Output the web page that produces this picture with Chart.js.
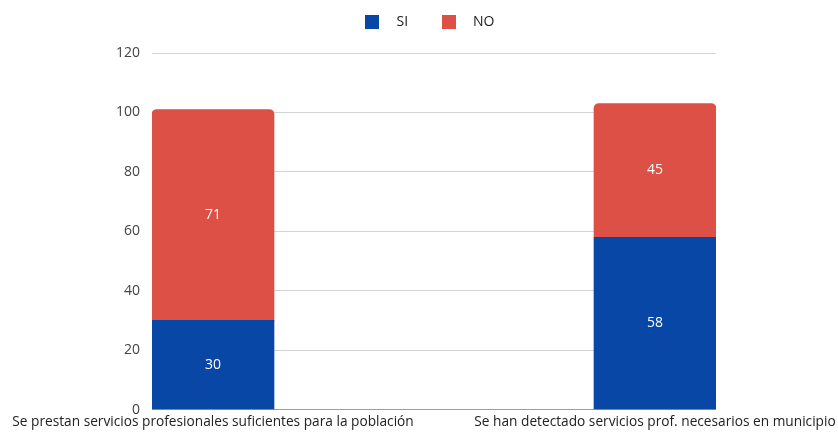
<!DOCTYPE html>
<html>
<head>
<meta charset="utf-8">
<script src="https://cdn.jsdelivr.net/npm/chart.js@4/dist/chart.umd.min.js"></script>
<style>
html,body{margin:0;padding:0;background:#fff;}
#wrap{width:838px;height:434px;position:relative;}
</style>
</head>
<body>
<div id="wrap"><canvas id="c" width="838" height="434"></canvas></div>
<script>
const categories = [
  "Se prestan servicios profesionales suficientes para la población",
  "Se han detectado servicios prof. necesarios en municipio"
];
const seriesNames = ["SI", "NO"];
const siValues = [30, 58];
const noValues = [71, 45];
const yTicks = [0, 20, 40, 60, 80, 100, 120];

const FONT = "'Open Sans', 'Noto Sans', sans-serif";
const BLUE = '#0847a6';
const RED = '#dc5045';

const valueLabels = {
  id: 'valueLabels',
  afterDatasetsDraw(chart) {
    const ctx = chart.ctx;
    ctx.save();
    ctx.fillStyle = '#ffffff';
    ctx.font = '14px ' + FONT;
    ctx.textAlign = 'center';
    ctx.textBaseline = 'middle';
    chart.data.datasets.forEach((ds, di) => {
      const meta = chart.getDatasetMeta(di);
      meta.data.forEach((el, i) => {
        const p = el.getProps(['x', 'y', 'base'], true);
        ctx.fillText(String(ds.data[i].y), p.x, (p.y + p.base) / 2);
      });
    });
    ctx.restore();
  }
};

// legend centred over the plot area
const topLegend = {
  id: 'topLegend',
  afterDraw(chart) {
    const ctx = chart.ctx;
    const ca = chart.chartArea;
    const box = 14, gapText = 17, gapItem = 34, cy = 22, shift = -4;
    ctx.save();
    ctx.font = '14px ' + FONT;
    ctx.textBaseline = 'middle';
    ctx.textAlign = 'left';
    const items = chart.data.datasets.map(ds => ({
      label: ds.label, color: ds.backgroundColor,
      w: box + gapText + ctx.measureText(ds.label).width
    }));
    const total = items.reduce((a, it) => a + it.w, 0) + gapItem * (items.length - 1);
    let x = (ca.left + ca.right) / 2 - total / 2 + shift;
    items.forEach(it => {
      ctx.fillStyle = it.color;
      ctx.fillRect(Math.round(x), cy - box / 2, box, box);
      ctx.fillStyle = '#222';
      ctx.fillText(it.label, x + box + gapText, cy);
      x += it.w + gapItem;
    });
    ctx.restore();
  }
};

const toPoints = arr => arr.map((v, i) => ({ x: i, y: v }));

new Chart(document.getElementById('c'), {
  type: 'bar',
  data: {
    datasets: [
      {
        label: seriesNames[0],
        data: toPoints(siValues),
        backgroundColor: BLUE,
        borderWidth: 0,
        barThickness: 122
      },
      {
        label: seriesNames[1],
        data: toPoints(noValues),
        backgroundColor: RED,
        borderWidth: 0,
        barThickness: 122,
        borderRadius: { topLeft: 5, topRight: 5, bottomLeft: 0, bottomRight: 0 }
      }
    ]
  },
  options: {
    responsive: false,
    animation: false,
    devicePixelRatio: 1,
    layout: { padding: { left: 0, right: 122, top: 53, bottom: 0 } },
    plugins: {
      legend: { display: false },
      tooltip: { enabled: false }
    },
    scales: {
      x: {
        type: 'linear',
        stacked: true,
        min: -0.138,
        max: 1.138,
        offset: false,
        grid: { display: false, drawTicks: false },
        border: { display: false },
        afterBuildTicks: s => { s.ticks = categories.map((c, i) => ({ value: i })); },
        afterFit: s => { s.paddingLeft = 0; s.paddingRight = 0; },
        ticks: {
          autoSkip: false,
          maxRotation: 0,
          padding: 4,
          color: '#222',
          font: { family: FONT, size: 13.7 },
          callback: v => categories[v]
        }
      },
      y: {
        stacked: true,
        min: 0,
        max: 120,
        afterBuildTicks: s => { s.ticks = yTicks.map(v => ({ value: v })); },
        afterFit: s => { s.width = 152; },
        grid: {
          drawTicks: false,
          color: ctx => (ctx.tick && ctx.tick.value === 0) ? '#9e9e9e' : '#d3d3d3',
          lineWidth: 1
        },
        border: { display: false },
        ticks: {
          padding: 12,
          color: '#444',
          font: { family: FONT, size: 14 }
        }
      }
    }
  },
  plugins: [valueLabels, topLegend]
});
</script>
</body>
</html>
